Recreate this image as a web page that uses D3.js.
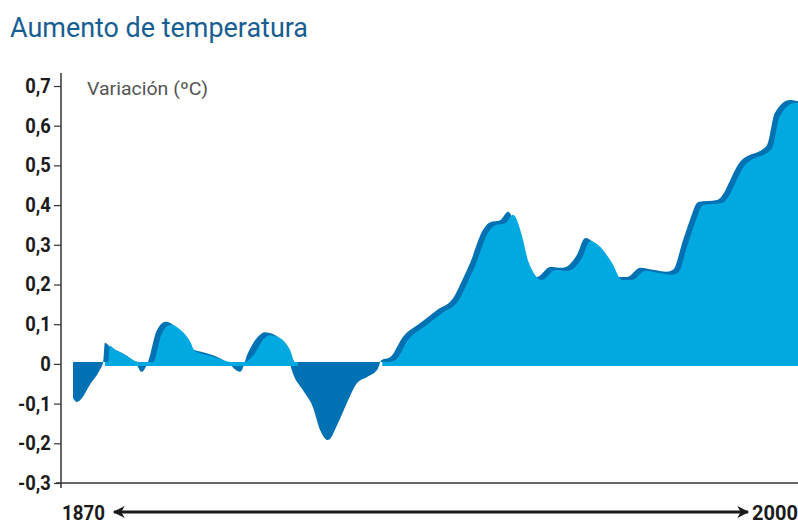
<!DOCTYPE html>
<html>
<head>
<meta charset="utf-8">
<script src="https://cdn.jsdelivr.net/npm/d3@7"></script>
<style>
  body { margin: 0; background: #fff; }
  svg { display: block; }
</style>
</head>
<body>
<svg id="chart" width="798" height="524"></svg>
<script>
// Aumento de temperatura -- anomaly area 1870-2000

var years = [1870.0, 1870.7, 1871.3, 1873.0, 1874.8, 1875.4, 1875.7, 1876.6, 1878.4, 1880.2,
  1881.1, 1882.3, 1883.4, 1885.0, 1886.6, 1888.2, 1890.0, 1890.9, 1893.6, 1895.4,
  1897.5, 1899.9, 1901.3, 1903.4, 1904.3, 1906.1, 1907.9, 1908.8, 1909.3, 1911.1,
  1912.9, 1914.2, 1915.6, 1917.4, 1919.0, 1920.8, 1922.6, 1924.4, 1925.2, 1926.7,
  1929.0, 1932.1, 1935.1, 1938.0, 1939.2, 1941.0, 1943.3, 1944.6, 1946.4, 1947.8,
  1949.4, 1950.5, 1953.0, 1955.3, 1957.6, 1960.1, 1961.6, 1963.0, 1965.5, 1967.3,
  1969.1, 1971.4, 1973.7, 1976.2, 1977.3, 1979.1, 1980.3, 1981.8, 1985.2, 1989.3,
  1994.1, 1995.5, 1998.2, 2000.0];

var values = [-0.086, -0.096, -0.091, -0.053, -0.015, 0.005, 0.053, 0.043, 0.030, 0.015,
  0.005, -0.020, 0.005, 0.085, 0.106, 0.095, 0.065, 0.040, 0.028, 0.020,
  0.005, -0.020, 0.028, 0.073, 0.080, 0.073, 0.043, 0.000, -0.023, -0.066,
  -0.109, -0.167, -0.192, -0.149, -0.098, -0.048, -0.033, -0.015, 0.010, 0.017,
  0.068, 0.103, 0.136, 0.166, 0.199, 0.254, 0.337, 0.357, 0.362, 0.383,
  0.330, 0.267, 0.219, 0.244, 0.242, 0.274, 0.317, 0.307, 0.262, 0.219,
  0.219, 0.242, 0.237, 0.232, 0.237, 0.312, 0.362, 0.408, 0.413, 0.509,
  0.551, 0.632, 0.665, 0.660];

var yTicks = [0.7, 0.6, 0.5, 0.4, 0.3, 0.2, 0.1, 0, -0.1, -0.2, -0.3];

var title = "Aumento de temperatura";
var unitLabel = "Variación (ºC)";
var startLabel = "1870";
var endLabel = "2000";

var LIGHT = "#00a9e0";
var DARK = "#0071b2";

var data = years.map(function (yr, i) { return { year: yr, v: values[i] }; });

var svg = d3.select("#chart");

var x = d3.scaleLinear().domain([1870, 2000]).range([73, 800]);
var y = d3.scaleLinear().domain([-0.3, 0.7]).range([483, 86]);

var font = "Roboto, 'Liberation Sans', sans-serif";

// title
svg.append("text")
  .attr("x", 10)
  .attr("y", 37)
  .attr("fill", "#175e93")
  .attr("textLength", 298)
  .attr("lengthAdjust", "spacingAndGlyphs")
  .style("font-family", font)
  .style("font-weight", "normal")
  .style("font-size", "28px")
  .text(title);

// dark back face (shows as rim and the negative part)
var darkArea = d3.area()
  .curve(d3.curveMonotoneX)
  .x(function (d) { return x(d.year); })
  .y0(y(0) - 2)
  .y1(function (d) { return y(d.v); });

svg.append("path")
  .datum(data)
  .attr("d", darkArea)
  .attr("fill", DARK);

// light front face, shifted right/down, keeps a thin band on the zero line
var lightArea = d3.area()
  .curve(d3.curveMonotoneX)
  .defined(function (d) { return d.v > -0.03; })
  .x(function (d) { return x(d.year) + 5; })
  .y0(y(0) + 2)
  .y1(function (d) { return Math.min(y(d.v) + 3, y(0) - 2); });

svg.append("path")
  .datum(data)
  .attr("d", lightArea)
  .attr("fill", LIGHT);

// y axis
var yAxis = d3.axisLeft(y)
  .tickValues(yTicks)
  .tickSize(7)
  .tickSizeOuter(0)
  .tickPadding(4)
  .tickFormat(function (d) { return String(d).replace(".", ","); });

var gy = svg.append("g")
  .attr("transform", "translate(61,0)")
  .call(yAxis);

gy.select(".domain").remove();
gy.selectAll(".tick line").attr("stroke", "#333").attr("stroke-width", 1.2);
gy.selectAll(".tick text")
  .attr("fill", "#1a1a1a")
  .attr("transform", "scale(0.92,1)")
  .style("font-family", font)
  .style("font-weight", "bold")
  .style("font-size", "20px");

svg.append("line")
  .attr("x1", 61).attr("x2", 61)
  .attr("y1", 73).attr("y2", 488)
  .attr("stroke", "#333").attr("stroke-width", 1.5);

svg.append("line")
  .attr("x1", 56).attr("x2", 798)
  .attr("y1", y(-0.3)).attr("y2", y(-0.3))
  .attr("stroke", "#333").attr("stroke-width", 1.5);

// unit label
svg.append("text")
  .attr("x", 87)
  .attr("y", 95)
  .attr("fill", "#555")
  .attr("textLength", 121)
  .attr("lengthAdjust", "spacingAndGlyphs")
  .style("font-family", font)
  .style("font-size", "18px")
  .text(unitLabel);

// time arrow
var defs = svg.append("defs");
defs.append("marker")
  .attr("id", "head")
  .attr("viewBox", "0 0 10 10")
  .attr("refX", 9).attr("refY", 5)
  .attr("markerWidth", 4.5).attr("markerHeight", 4)
  .attr("markerUnits", "strokeWidth")
  .attr("orient", "auto-start-reverse")
  .append("path")
  .attr("d", "M0,0 L10,5 L0,10 L3,5 Z")
  .attr("fill", "#1a1a1a");

svg.append("line")
  .attr("x1", 114).attr("x2", 748)
  .attr("y1", 512).attr("y2", 512)
  .attr("stroke", "#1a1a1a")
  .attr("stroke-width", 3)
  .attr("marker-start", "url(#head)")
  .attr("marker-end", "url(#head)");

svg.append("text")
  .attr("x", 62).attr("y", 520)
  .attr("fill", "#1a1a1a")
  .attr("textLength", 43)
  .attr("lengthAdjust", "spacingAndGlyphs")
  .style("font-family", font)
  .style("font-weight", "bold")
  .style("font-size", "20px")
  .text(startLabel);

svg.append("text")
  .attr("x", 752).attr("y", 520)
  .attr("fill", "#1a1a1a")
  .attr("textLength", 46)
  .attr("lengthAdjust", "spacingAndGlyphs")
  .style("font-family", font)
  .style("font-weight", "bold")
  .style("font-size", "20px")
  .text(endLabel);
</script>
</body>
</html>
